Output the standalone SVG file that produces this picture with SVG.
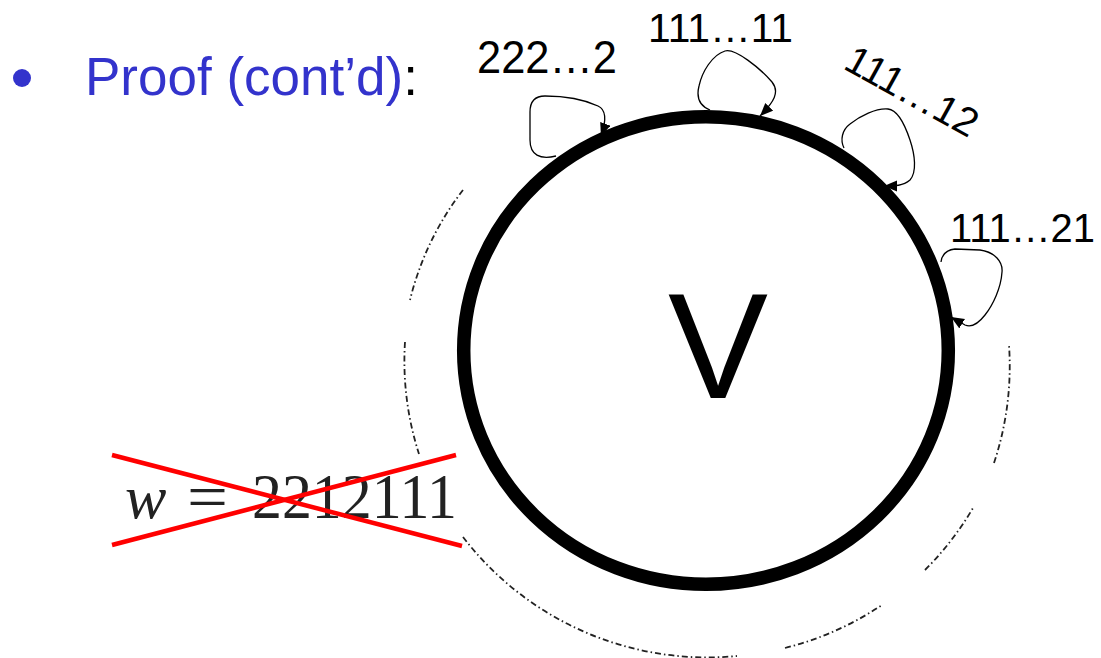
<svg xmlns="http://www.w3.org/2000/svg" width="1101" height="658" viewBox="0 0 1101 658">
<style>
.lbl{font-family:"Liberation Sans",Arial,sans-serif;fill:#000}
.loop{fill:none;stroke:#000;stroke-width:1.3;marker-end:url(#ah)}
.dd{fill:none;stroke:#222;stroke-width:1.8;stroke-dasharray:6 3 1.5 3}
.cross{stroke:#ff0000;stroke-width:4.5;stroke-linecap:butt}
</style>
<defs>
<marker id="ah" markerUnits="userSpaceOnUse" markerWidth="16" markerHeight="14" refX="13" refY="5.5" orient="auto">
<path d="M0,0 L13,5.5 L0,11 z" fill="#000"/>
</marker>
</defs>
<rect width="1101" height="658" fill="#fff"/>
<g id="title">
<circle cx="22" cy="78" r="9" fill="#3333cc"/>
<text x="85" y="95" font-family="Liberation Sans, Arial, sans-serif" font-size="53" fill="#3333cc">Proof (cont’d)<tspan fill="#000">:</tspan></text>
</g>
<g id="node-V">
<ellipse cx="706" cy="350.5" rx="242.3" ry="233.8" fill="none" stroke="#000" stroke-width="13.5"/>
<text x="718" y="398" text-anchor="middle" class="lbl" font-size="150">V</text>
</g>
<g id="guides">
<path class="dd" d="M463,190 A295,295 0 0 0 410,300"/>
<path class="dd" d="M405,342 A303,303 0 0 0 419,454"/>
<path class="dd" d="M463,537 A308,308 0 0 0 737,656"/>
<path class="dd" d="M785,648 A309,309 0 0 0 882,605"/>
<path class="dd" d="M925,570 A310,310 0 0 0 973,508"/>
<path class="dd" d="M994,463 A306,306 0 0 0 1009,345"/>
</g>
<g id="connectors">
<path class="loop" d="M556,156 C540,160 530,155 530,140 L530,112 C530,100 536,96 545,96 C565,96 585,100 598,106 C607,110 606,122 601,136"/>
<path class="loop" d="M710,110 C700,106 696,98 699,86 C702,72 712,55 725,51 C735,48 760,68 772,82 C780,92 774,102 760,116"/>
<path class="loop" d="M844,148 C840,140 842,130 850,124 C860,116 876,108 888,109 C898,110 905,125 910,140 C915,155 917,172 910,180 C903,186 895,186 884,186"/>
<path class="loop" d="M941,262 C942,254 946,250 955,249 L980,250 C995,252 1003,262 1002,272 C1001,288 993,305 985,315 C978,324 972,328 965,325 C960,322 956,320 951,317"/>
</g>
<g id="label-222">
<text x="477" y="73" class="lbl" font-size="46" textLength="140" lengthAdjust="spacingAndGlyphs">222…2</text>
</g>
<g id="label-11111">
<text x="648" y="42" class="lbl" font-size="41" textLength="145" lengthAdjust="spacingAndGlyphs">111…11</text>
</g>
<g id="label-11112">
<text x="0" y="0" transform="translate(842,68) rotate(29)" class="lbl" font-size="40" textLength="145" lengthAdjust="spacingAndGlyphs">111…12</text>
</g>
<g id="label-11121">
<text x="950" y="242" class="lbl" font-size="40" textLength="145" lengthAdjust="spacingAndGlyphs">111…21</text>
</g>
<g id="word">
<text x="125" y="518" font-family="Liberation Serif, serif" font-style="italic" font-size="62" fill="#222">w</text>
<text x="187" y="518" font-family="Liberation Serif, serif" font-size="64" fill="#222" textLength="41" lengthAdjust="spacingAndGlyphs">=</text>
<text x="252" y="518" font-family="Liberation Serif, serif" font-size="64" fill="#222" textLength="205" lengthAdjust="spacingAndGlyphs">2212111</text>
<line class="cross" x1="112" y1="455" x2="462" y2="546"/>
<line class="cross" x1="112" y1="545" x2="456" y2="455"/>
</g>
</svg>
